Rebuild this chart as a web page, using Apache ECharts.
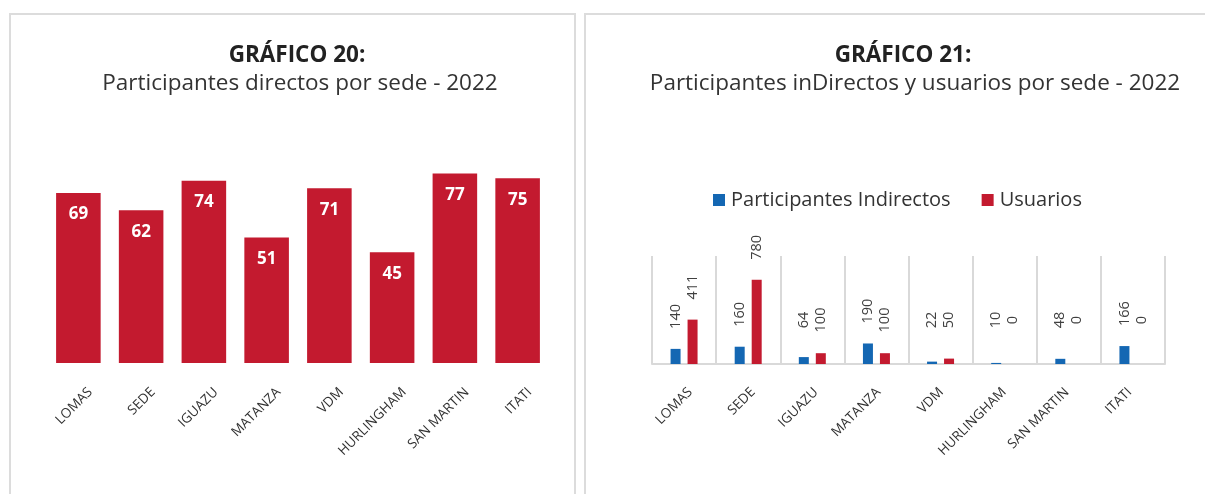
<!DOCTYPE html>
<html>
<head>
<meta charset="utf-8">
<title>Gráficos 20 y 21</title>
<script src="https://cdn.jsdelivr.net/npm/echarts@6/dist/echarts.min.js"></script>
<style>
  html, body { margin: 0; padding: 0; background: #fff; }
  #main { width: 1205px; height: 494px; }
</style>
</head>
<body>
<div id="main"></div>
<script>
const sedes = ['LOMAS', 'SEDE', 'IGUAZU', 'MATANZA', 'VDM', 'HURLINGHAM', 'SAN MARTIN', 'ITATI'];
const directos = [69, 62, 74, 51, 71, 45, 77, 75];
const indirectos = [140, 160, 64, 190, 22, 10, 48, 166];
const usuarios = [411, 780, 100, 100, 50, 0, 0, 0];

const RED = '#c31a2f';
const BLUE = '#1467b3';
const FONT = 'Open Sans';

const myChart = echarts.init(document.getElementById('main'));

// small labels sit on one line, bigger bars push theirs up
const labelLine = 320;
const keepLabel = (params) => {
  const r = params.rect;
  const lr = params.labelRect;
  return { y: Math.min(r.y - 20, labelLine + lr.height / 2) };
};

const hiddenY = (max) => ({
  type: 'value', min: 0, max: max,
  show: false, splitLine: { show: false }
});

const labelAxis = (grid, margin) => ({
  type: 'category',
  gridIndex: grid,
  data: sedes,
  axisLine: { show: false },
  axisTick: { show: false },
  axisLabel: {
    interval: 0,
    rotate: 45,
    margin: margin,
    fontFamily: FONT,
    fontSize: 13.5,
    color: '#333'
  }
});

myChart.setOption({
  textStyle: { fontFamily: FONT },
  animation: false,
  graphic: [
    { type: 'rect', shape: { x: 10, y: 14, width: 565, height: 600 },
      style: { fill: 'none', stroke: '#dcdcdc', lineWidth: 2 } },
    { type: 'rect', shape: { x: 585, y: 14, width: 700, height: 600 },
      style: { fill: 'none', stroke: '#dcdcdc', lineWidth: 2 } }
  ],
  title: [
    { text: 'GRÁFICO 20:', left: 297, top: 44, textAlign: 'center', padding: 0,
      textStyle: { fontFamily: FONT, fontSize: 22.5, fontWeight: 'bold', color: '#222' } },
    { text: 'Participantes directos por sede - 2022', left: 300, top: 72, textAlign: 'center', padding: 0,
      textStyle: { fontFamily: FONT, fontSize: 22.5, fontWeight: 'normal', color: '#333' } },
    { text: 'GRÁFICO 21:', left: 903, top: 44, textAlign: 'center', padding: 0,
      textStyle: { fontFamily: FONT, fontSize: 22.5, fontWeight: 'bold', color: '#222' } },
    { text: 'Participantes inDirectos y usuarios por sede - 2022', left: 915, top: 72, textAlign: 'center', padding: 0,
      textStyle: { fontFamily: FONT, fontSize: 22.5, fontWeight: 'normal', color: '#333' } }
  ],
  legend: {
    left: 713,
    top: 190,
    padding: 0,
    itemWidth: 12,
    itemHeight: 12,
    itemGap: 31,
    icon: 'rect',
    data: ['Participantes Indirectos', 'Usuarios'],
    textStyle: { fontFamily: FONT, fontSize: 20, color: '#333', padding: [0, 0, 0, 1] }
  },
  grid: [
    { left: 47, top: 166, width: 502, height: 197 },
    { left: 652, top: 256, width: 513, height: 108 },
    { left: 59, top: 166, width: 502, height: 197 },
    { left: 659, top: 256, width: 502, height: 108 }
  ],
  xAxis: [
    {
      type: 'category', gridIndex: 0, data: sedes,
      axisLine: { show: false }, axisTick: { show: false }, axisLabel: { show: false }
    },
    {
      type: 'category', gridIndex: 1, data: sedes,
      axisLine: { lineStyle: { color: '#d9d9d9', width: 2 } },
      axisTick: { show: false },
      axisLabel: { show: false },
      splitLine: { show: true, interval: 0, lineStyle: { color: '#d9d9d9', width: 2 } }
    },
    labelAxis(2, 27),
    labelAxis(3, 26)
  ],
  yAxis: [
    Object.assign(hiddenY(80), { gridIndex: 0 }),
    Object.assign(hiddenY(1000), { gridIndex: 1 }),
    Object.assign(hiddenY(1), { gridIndex: 2 }),
    Object.assign(hiddenY(1), { gridIndex: 3 })
  ],
  series: [
    {
      name: 'Participantes directos',
      type: 'bar',
      xAxisIndex: 0,
      yAxisIndex: 0,
      data: directos,
      barCategoryGap: '29%',
      itemStyle: { color: RED },
      label: {
        show: true,
        position: 'insideTop',
        distance: 13,
        color: '#fff',
        fontFamily: FONT,
        fontSize: 17,
        fontWeight: 'bold'
      }
    },
    {
      name: 'Participantes Indirectos',
      type: 'bar',
      xAxisIndex: 1,
      yAxisIndex: 1,
      data: indirectos,
      barWidth: 10,
      barGap: '70%',
      itemStyle: { color: BLUE },
      label: {
        show: true, position: 'top', distance: 20, rotate: 90,
        align: 'left', verticalAlign: 'middle',
        fontFamily: FONT, fontSize: 14.5, color: '#404040'
      },
      labelLayout: keepLabel
    },
    {
      name: 'Usuarios',
      type: 'bar',
      xAxisIndex: 1,
      yAxisIndex: 1,
      data: usuarios,
      barWidth: 10,
      barGap: '70%',
      itemStyle: { color: RED },
      label: {
        show: true, position: 'top', distance: 20, rotate: 90,
        align: 'left', verticalAlign: 'middle',
        fontFamily: FONT, fontSize: 14.5, color: '#404040'
      },
      labelLayout: keepLabel
    }
  ]
});
</script>
</body>
</html>
